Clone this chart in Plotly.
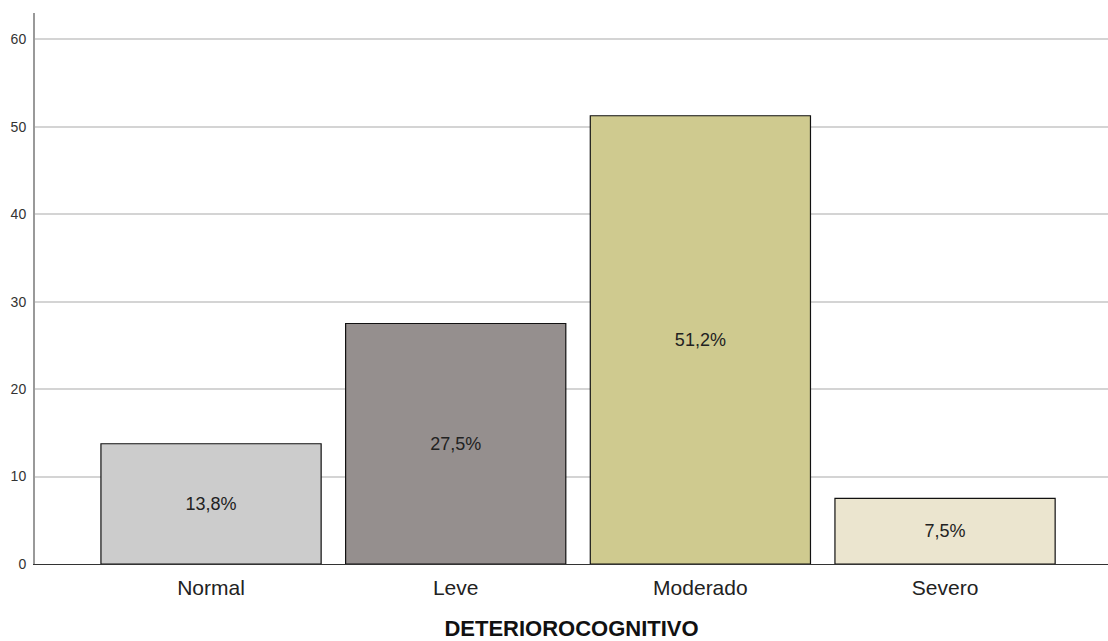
import plotly.graph_objects as go

categories = ["Normal", "Leve", "Moderado", "Severo"]
values = [13.75, 27.5, 51.25, 7.5]
labels = ["13,8%", "27,5%", "51,2%", "7,5%"]
colors = ["#cccccc", "#958f8e", "#cfca8f", "#ebe5cf"]
y_ticks = [0, 10, 20, 30, 40, 50, 60]

fig = go.Figure()
fig.add_trace(go.Bar(
    x=list(range(len(categories))),
    y=values,
    text=labels,
    textposition="inside",
    insidetextanchor="middle",
    textangle=0,
    textfont=dict(family="Liberation Sans, Arial", size=18, color="#222222"),
    marker=dict(color=colors, line=dict(color="#111111", width=1.2)),
    width=0.9,
    hoverinfo="skip",
))

fig.update_layout(
    width=1108, height=641,
    margin=dict(l=35, r=0, t=13, b=77),
    paper_bgcolor="white", plot_bgcolor="white",
    showlegend=False,
    font=dict(family="Liberation Sans, Arial", color="#222222"),
    xaxis=dict(
        range=[-0.7195, 3.666],
        tickmode="array",
        tickvals=list(range(len(categories))),
        ticktext=categories,
        tickfont=dict(size=21, color="#222222"),
        showgrid=False, zeroline=False,
        showline=True, linecolor="#333333", linewidth=1,
        ticks="", ticklabelstandoff=5,
        title=dict(text="<b>DETERIOROCOGNITIVO</b>",
                   font=dict(size=22, color="#111111"), standoff=24),
    ),
    yaxis=dict(
        range=[0, 63],
        tickmode="array",
        tickvals=y_ticks,
        tickfont=dict(size=14, color="#333333"),
        showgrid=True, gridcolor="#d4d4d4", gridwidth=1.5,
        zeroline=False,
        showline=True, linecolor="#999999", linewidth=2,
        ticks="", ticklabelstandoff=4,
    ),
    bargap=0.1,
)

fig.write_html("out.html")
